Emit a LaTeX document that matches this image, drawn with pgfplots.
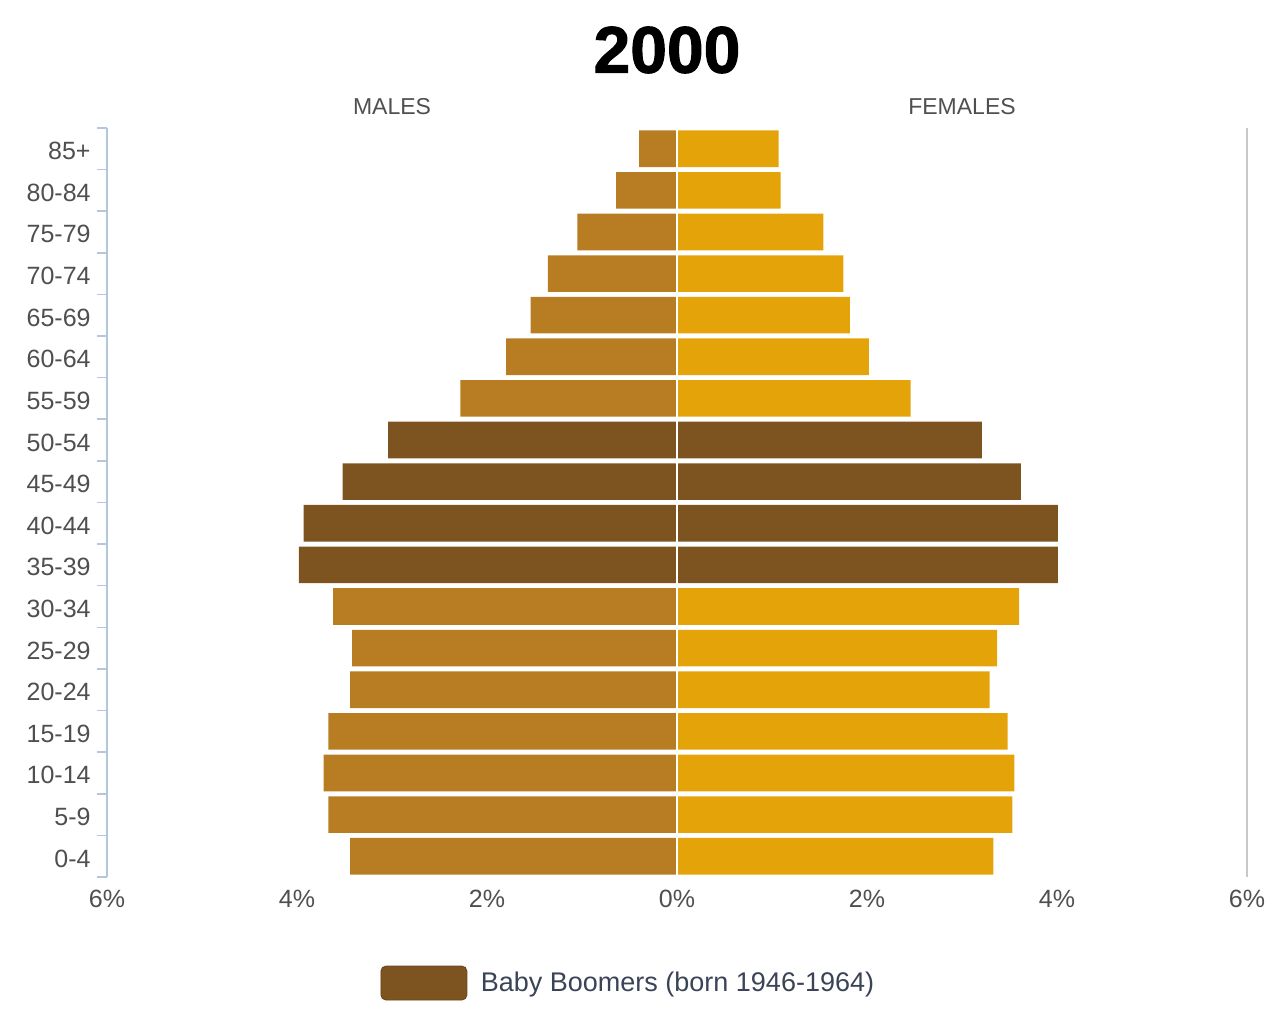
\documentclass[border=0pt]{standalone}
\usepackage{pgfplots}
\pgfplotsset{compat=1.18}
\usepackage{fontspec}
\setmainfont{Liberation Sans}
\newfontfamily\titlefont[FakeBold=1.5]{Liberation Sans Bold}
\definecolor{mnorm}{HTML}{B87D22}
\definecolor{fnorm}{HTML}{E5A30A}
\definecolor{boom}{HTML}{7D5420}
\definecolor{axblue}{HTML}{B3C6DD}
\definecolor{axgray}{HTML}{C8C8C8}
\definecolor{txt}{HTML}{4F4F4F}
\definecolor{legtxt}{HTML}{3A4456}
\begin{document}
\begin{tikzpicture}
\useasboundingbox (-53.5pt,-70.5pt) rectangle (583.5pt,438.5pt);
\begin{axis}[
  at={(0pt,0pt)}, anchor=south west,
  width=570pt, height=376pt, scale only axis,
  xmin=-6, xmax=6, ymin=-0.5, ymax=17.57,
  xbar, bar width=0.88, bar shift=0pt,
  axis line style={draw=none},
  xtick={-6,-4,-2,0,2,4,6},
  xticklabels={6\%,4\%,2\%,0\%,2\%,4\%,6\%},
  ytick={0,...,17},
  yticklabels={0-4,5-9,10-14,15-19,20-24,25-29,30-34,35-39,40-44,45-49,50-54,55-59,60-64,65-69,70-74,75-79,80-84,85+},
  minor ytick={-0.5,0.5,...,17.5},
  ytick pos=left, xtick pos=bottom,
  tick align=outside,
  major tick length=0pt, minor tick length=5pt,
  minor tick style={axblue, line width=0.8pt},
  tick label style={font=\fontsize{12.5}{14}\selectfont, text=txt},
  yticklabel style={inner xsep=0pt, xshift=-8pt, yshift=-1.2pt},
  xticklabel style={inner ysep=0pt, yshift=-6.5pt},
  /pgf/number format/assume math mode=true,
  clip=false,
  legend style={draw=none, fill=none, at={(0.2343,-0.141)}, anchor=west,
    font=\fontsize{13.5}{16}\selectfont, text=legtxt,
    nodes={inner sep=0pt}},
  legend image code/.code={\draw[fill=boom, draw=boom!85!black, rounded corners=2.5pt] (0pt,-8.5pt) rectangle (43pt,8.5pt); \path (50pt,0pt);},
]
% males
\addplot[fill=mnorm, draw=none, forget plot] coordinates {
(-3.44,0) (-3.67,1) (-3.72,2) (-3.67,3) (-3.44,4) (-3.42,5) (-3.62,6)
(-2.28,11) (-1.80,12) (-1.54,13) (-1.36,14) (-1.05,15) (-0.64,16) (-0.40,17)};
\addplot[fill=boom, draw=none] coordinates {
(-3.98,7) (-3.93,8) (-3.52,9) (-3.04,10)};
\addlegendentry{Baby Boomers (born 1946-1964)}
% females
\addplot[fill=fnorm, draw=none, forget plot] coordinates {
(3.33,0) (3.53,1) (3.55,2) (3.48,3) (3.29,4) (3.37,5) (3.60,6)
(2.46,11) (2.02,12) (1.82,13) (1.75,14) (1.54,15) (1.09,16) (1.07,17)};
\addplot[fill=boom, draw=none, forget plot] coordinates {
(4.01,7) (4.01,8) (3.62,9) (3.21,10)};
\draw[white, line width=1.2pt] (axis cs:0,-0.5) -- (axis cs:0,17.57);
\draw[axblue, line width=0.8pt] (axis cs:-6,-0.5) -- (axis cs:-6,17.5);
\draw[axgray, line width=0.8pt] (axis cs:6,-0.5) -- (axis cs:6,17.5);
\node[font=\fontsize{11.5}{13}\selectfont, text=txt] at ([yshift=9pt]axis cs:-3,17.57) {MALES};
\node[font=\fontsize{11.5}{13}\selectfont, text=txt] at ([yshift=9pt]axis cs:3,17.57) {FEMALES};
\node[font=\fontsize{33}{36}\titlefont] at ([xshift=-5pt,yshift=37.5pt]axis cs:0,17.57) {2000};
\end{axis}
\end{tikzpicture}
\end{document}
